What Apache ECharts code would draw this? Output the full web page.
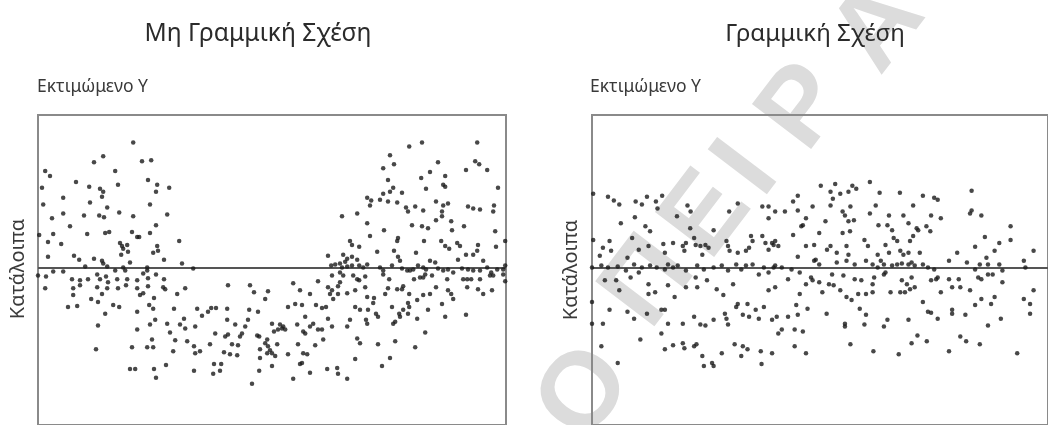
<!DOCTYPE html>
<html>
<head>
<meta charset="utf-8">
<script src="https://cdn.jsdelivr.net/npm/echarts@6/dist/echarts.min.js"></script>
<style>
  html, body { margin: 0; padding: 0; background: #ffffff; }
  #chart { width: 1048px; height: 425px; }
</style>
</head>
<body>
<div id="chart"></div>
<script>
// Residuals (y) against fitted values (x) for two regression models.

const panelTitles = ['Μη Γραμμική Σχέση', 'Γραμμική Σχέση'];
const fittedLabel = 'Εκτιμώμενο Υ';
const residualLabel = 'Κατάλοιπα';

// Model with a non-linear pattern: residuals dip in the middle of the range.
const nonLinearPoints = [
  [23.8,12.7],[16.3,11.3],[14,10.7],[26,10.8],[28.3,10.9],[1.8,9.8],[3,9.3],[19.3,9.8],[9.5,8.7],[12.8,8.2],
  [15.5,8],[16.3,7.7],[20,8.4],[27.5,8.9],[29.8,8.4],[29.5,7.7],[32.8,8.1],[1,8.1],[1.3,6.4],[6.3,7.1],
  [16,7.2],[13,6.6],[17.3,6.1],[6.3,5.5],[3.5,5],[11.5,5.3],[15.3,5.3],[16.5,5.1],[20.3,5.6],[23.8,5.2],
  [28,6.4],[32.3,5.4],[8,4.2],[29.5,4.3],[0.3,3.3],[3.8,3.4],[12.3,3.4],[16.8,3.5],[17.8,3.6],[23.5,3.6],
  [24.8,3.1],[25.3,3.1],[28,3.5],[2.5,2.6],[5.8,2.4],[20.5,2.5],[21,2.2],[21.3,1.9],[22.3,2.3],[22.5,1.6],
  [29.8,2.2],[30,1.7],[28.8,1.5],[35.3,2.7],[20.8,1.3],[2.5,1.1],[9,1.2],[10.3,0.8],[14,0.9],[16,0.7],
  [16.3,0.4],[23,0.5],[31.5,0.8],[36,0.4],[11.8,0.1],[17.3,0.1],[38.8,-0.1],[27.3,0],[21.3,0],[21.8,-0.3],
  [0,-0.8],[2,-0.9],[3.8,-0.4],[6.3,-0.4],[8.5,-1.2],[10.5,-1.3],[12.5,-1.2],[14.8,-0.7],[15.5,-1.2],[17,-0.9],
  [17.5,-1.5],[19.3,-0.3],[19.8,-1.2],[22.3,-1.2],[24.8,-1.3],[26.3,-0.6],[27.3,-0.3],[27.5,-1.1],[29.5,-0.7],[31.5,-1.2],
  [1.8,-2.1],[8.8,-2.1],[10.5,-1.8],[14.8,-2],[17.3,-2.1],[20,-2.1],[22,-1.8],[24.8,-2.1],[27.5,-1.9],[31.3,-2],
  [31.8,-2.2],[36.8,-2.1],[8.8,-2.8],[13.3,-3.2],[15,-3.5],[16,-2.7],[25.5,-2.8],[26.3,-2.6],[29,-3.1],[34.8,-2.7],
  [7.5,-4],[9.8,-3.9],[18.8,-3.8],[20.3,-4],[24.8,-4.5],[27.8,-3.8],[28.8,-4.2],[34,-4.2],[39.8,-4.2],[43.3,-4.1],
  [44.5,-4.1],[47.3,-4.2],[16.8,-4.7],[29.3,-5.3],[28,-5.8],[41,-4.9],[42.5,-4.5],[36.5,-5.2],[47.5,-1.8],[53,-1.8],
  [54,-2.5],[57.5,-2.4],[56.8,-3.2],[52.8,-4.3],[55,-4.5],[52.5,-5.3],[47.3,-5.3],[15,-5.9],[24.8,-6.3],[32.3,-5.7],
  [35.5,-5.8],[36.8,-6.2],[39.3,-6],[49.3,-5.8],[51.8,-6],[58.5,-5.7],[33,-6.6],[44.3,-6.7],[46.8,-7],[47.5,-6.8],
  [50.5,-7],[51,-6.7],[54.8,-6.9],[55.3,-7],[59,-6.5],[60,-6.3],[28.5,-7.3],[34.3,-7.4],[37.3,-7.5],[43,-7.8],
  [48.5,-7.8],[50,-7.9],[57.3,-7.3],[57.5,-8],[14.5,-8.3],[23.5,-8.1],[27.3,-8.1],[28.8,-8.1],[39,-8],[39.3,-8.7],
  [40.5,-8.5],[46.5,-8.6],[48,-8.8],[49.8,-8.9],[55.5,-8.3],[57.3,-8.7],[58,-8.4],[33.8,-8.5],[55.5,-9.2],[58.5,-10],
  [23,-10.3],[24.3,-10.3],[29,-10.3],[32,-9.9],[39,-10.5],[44,-9.8],[45.8,-9.8],[43.8,-10.8],[45.5,-10.5],[29.5,-11.2],
  [55.3,-10.5],[53.5,-11.8],
  [109.8,12.7],[96,12.7],[92.8,12.3],[88,11.4],[109.3,10.8],[110.3,10.5],[112.3,9.9],[86.3,10.1],[89,10.5],[100,10.7],
  [98,9.7],[107,9.9],[95.8,9.1],[101.8,9.3],[87.5,8.9],[101.3,8.4],[101.8,8.2],[97,8],[115,8.1],[88.8,8.1],
  [88,7.7],[86.3,7.5],[91,7.6],[82.3,7.1],[83.3,6.8],[83,6.3],[85.5,6.9],[87.5,6.7],[89.8,6.6],[92,6.1],
  [92.5,5.7],[94.3,6.2],[96.3,5.8],[99.5,6.7],[101.3,6.3],[101,5.7],[102.5,6.5],[107.5,6.2],[108.8,6],[110.5,5.9],
  [114,6.3],[113.8,5.7],[76,5.2],[79.8,5.5],[82.3,4.5],[86.5,3.8],[93.5,4.3],[96,4.2],[97.5,4],[99.5,4.8],
  [103.3,4.7],[103.5,3.8],[101,5.2],[106.5,4.2],[114.3,3.7],[83,3.2],[90,3],[89.8,2.7],[78,2.7],[78.5,2.3],
  [96.5,2.7],[100.8,2.7],[101.8,2.2],[104.8,2.5],[105.5,2.2],[110,2.3],[109.8,1.7],[108.8,1.3],[114.5,2.1],[116.8,2.7],
  [84.8,1.6],[89,1.7],[90,1.1],[90.5,0.7],[80.3,2.1],[94.5,1.5],[102.8,1.9],[107,1.3],[111.3,0.7],[105,0.8],
  [98,0.7],[99.3,0.5],[72.5,1.2],[76.3,1.3],[77.3,0.9],[78.5,1.1],[79.8,0.8],[75.5,0.4],[76.8,0.6],[73.3,0.2],
  [74.3,0.3],[76,0],[77.3,0.1],[78.5,0.2],[80.3,0.2],[81.3,0],[82.3,0.3],[85.5,0],[86.3,-0.3],[88.5,0.2],
  [91,-0.1],[92.3,-0.3],[93,-0.3],[93.8,-0.2],[95,0.2],[96.3,0],[97,-0.2],[100,-0.1],[101.3,-0.3],[102.5,-0.2],
  [103.8,-0.5],[106,-0.1],[107.5,-0.2],[108.8,-0.3],[110.5,-0.3],[112.3,0],[113.3,-0.5],[114.8,-0.2],[116.3,-0.2],[116.8,0.2],
  [116.3,-0.7],[116.8,-1.4],[73.5,-0.8],[75.5,-0.5],[76.3,-0.8],[78.8,-0.8],[79.8,-1.2],[80.3,-1.3],[81.8,-0.9],[86.3,-0.7],
  [87.8,-1.2],[94,-1.2],[95.5,-1],[96.3,-1],[96.8,-0.7],[98.5,-0.8],[102.3,-1.2],[106.3,-1.2],[107.3,-1.2],[108.3,-1.2],
  [110.5,-1.2],[113,-0.8],[113.8,-0.8],[63.8,-1.6],[65.5,-2.3],[68,-2.7],[70,-1.4],[72.5,-2],[73.5,-2.3],[73,-2.7],
  [75.5,-1.5],[75,-1.9],[75,-2.7],[73.8,-3.2],[77.3,-2.6],[79.3,-2.3],[82.3,-3],[81.8,-2],[84,-3.1],[83.8,-3.6],
  [86.8,-2.7],[87.5,-2.1],[89.8,-2.2],[91,-2.2],[91.3,-1.9],[92.8,-2.7],[92.5,-3.6],[94.8,-3.3],[96.3,-2.8],[98,-2.7],
  [99.5,-2],[102.5,-2.3],[103.3,-2.7],[103.8,-3.2],[101,-3.7],[107.3,-2],[110,-2.2],[111.3,-2.7],[113.5,-2.3],[62.5,-4],
  [64.3,-3.7],[66,-3.8],[69.5,-3.8],[71,-4.1],[72,-4],[72.5,-5.2],[79.3,-4],[80.5,-4.3],[82.5,-4.3],[84.5,-4.7],
  [85,-5],[88.5,-4],[90.3,-4.7],[90.5,-5],[91.3,-4.3],[92.8,-4],[92.5,-4.7],[94.8,-5.2],[97.5,-4.3],[101.8,-5],
  [107,-4.8],[60.5,-5.8],[61,-6.2],[61.3,-6],[61.8,-6.3],[64.8,-5.8],[66.3,-6.5],[66.8,-6.7],[68,-6],[68.8,-5.7],
  [70,-6.3],[71,-6.3],[71.3,-7.3],[66.8,-5],[73.5,-6],[77.3,-6],[78,-5.3],[79.8,-7.2],[80.5,-7.7],[82,-5.3],
  [82.3,-5.7],[88.8,-5.7],[89.3,-5.5],[96.8,-6.6],[56.8,-7.7],[58.5,-8.7],[59.8,-7.8],[59.3,-9],[62.5,-8.8],[65,-7.8],
  [66.3,-8.7],[67.3,-8.8],[69.3,-7.9],[85,-7.8],[89.3,-7.5],[94.3,-8.1],[65.5,-9.8],[66,-9.7],[68,-10.7],[63.8,-11.3],
  [72.3,-10.3],[74.8,-10.2],[75,-10.8],[77.3,-11.3],[79.3,-9.3],[86,-10],[88,-9.2]
];

// Model with a linear relationship: residuals scattered evenly around zero.
const linearPoints = [
  [0.3,7.5],[4.1,7.2],[5.6,6.8],[7,6.4],[11.2,6.7],[12.8,6.4],[14.1,7.2],[16.4,6.7],[16.8,6],[18,7.3],
  [11,5.1],[7.4,4.5],[13.7,4.2],[14.9,3.7],[21.8,5.2],[24.5,6.3],[25.3,5.7],[25.2,4],[35.2,5.7],[37.4,6.5],
  [31.2,3.8],[43.7,6.2],[45.3,6.2],[45.3,5],[0.3,2.8],[2.8,2],[2,1.2],[4.5,2.7],[4.9,1.7],[10.3,3],
  [12,1.8],[9.1,1],[14.5,2.2],[18.3,2.4],[18.7,1.5],[20.8,2.5],[23.3,2.2],[24.1,2.5],[23.7,1.7],[26.2,3],
  [26.6,2.3],[27.8,2.2],[29.1,2.3],[29.9,2],[28.3,1.3],[34.5,2.7],[34.9,2.2],[35.3,1.7],[37.4,1.5],[39.5,1.7],
  [40.3,2],[40.8,3.2],[41.2,2.7],[43.7,3.2],[44.5,2.5],[45.3,1.8],[46.2,2.5],[46.6,2.3],
  [0,0],[2.4,0.2],[4.1,0],[6.6,0.1],[8.7,-0.3],[10.8,0.3],[12.8,0],[14.9,0.2],[16.6,0],[18.7,-0.2],
  [19.5,0.3],[20.8,0],[22,0.2],[24.1,-0.3],[27,0.2],[28.7,-0.2],[31.2,0],[33.3,0.2],[34.9,-0.3],[37,0.3],
  [38.3,-0.2],[39.5,0.2],[41.2,0.3],[42.8,-0.7],[44.1,0],[45.3,-0.5],[46.6,0],
  [3.3,-1.3],[6.2,-1.3],[7,-2.3],[9.9,-1],[12,-0.5],[14.5,-1.7],[16.2,-2.5],[19.5,-1.8],[21.2,-3],[24.1,-2],
  [26.6,-1],[27,-2],[29.5,-1.3],[32,-2.2],[33.7,-2.8],[36.2,-1.7],[37.4,-3.7],[39.9,-3.7],[40.3,-5],[42,-4.3],
  [42.8,-5.2],[44.1,-4],[45.3,-2.3],[46.2,-5.3],
  [0,-3.5],[2.8,-5.7],[4.5,-4.3],[9.1,-4.5],[10.8,-5.2],[14.1,-4.7],[14.5,-2.7],[17.8,-4.3],[18.7,-4.3],[19.5,-5.7],
  [23.3,-5.7],[26.2,-5],[27.8,-5.8],[29.1,-5.9],[31.2,-5.3],[34.1,-4.7],[34.5,-5.2],[34.9,-5.8],[37,-4],[38.7,-4.8],
  [0,-5.7],[12.4,-7.3],[17.8,-6.7],[18.7,-8.3],[20.8,-7.9],[23.3,-7.7],[23.7,-8.2],[26.2,-8],[26.8,-7.8],[28.3,-9],
  [28.7,-10],[30.8,-9.7],[31.2,-10],[33.3,-8.7],[36.6,-7.8],[38.3,-9],[38.7,-8],[39.9,-8.3],[43.3,-8.5],[43.5,-9.8],
  [46.2,-8.7],[2.4,-8],[6.6,-9.7],
  [47,5.7],[49.5,5.7],[51.6,6.7],[47,2.7],[47.8,2.2],[51.6,3.3],[47,0.2],[48.7,0],[51.2,-0.2],[47,-2],
  [50.3,-1.2],[47.4,-5],[48.7,-6.3],[50.3,-5],[47.8,-6.7],
  [58.7,8.3],[62.4,8.5],[66.8,8.3],[67.8,8],[71.3,8.7],[52.8,7.3],[61.2,7.7],[63.7,7.5],[65.8,7.7],[73.8,7.6],
  [79,7.6],[84.9,7.3],[87.8,7.1],[88.7,6.9],[97.4,7.8],[56.6,6.2],[52.8,5.8],[61.8,7],[61.2,6.3],[64.3,5.7],
  [64.9,5.3],[66.3,6.2],[67.2,4.8],[65.8,4.7],[71.3,5.5],[72.8,6.3],[76.2,5.3],[75.8,4.3],[77,3.8],[79.9,5.3],
  [81.2,4.5],[82.4,6.3],[87,5.3],[85.8,4.2],[89.5,5],[83.3,4],[97.4,5.8],[97,5.5],[99.9,5.3],[54.1,4.3],
  [53.7,4.2],[54.9,5],[59.9,4.7],[58.3,3.5],[64.3,3.5],[66.2,3.7],[73.5,4.3],[86.8,3.7],[107.4,4.2],[107.4,2.8],
  [104.5,2.5],[103.3,1.7],[100.8,3.1],[98.3,2.1],[101.2,1],[113.3,1.7],[52.8,1.1],[54.9,2.2],[57,2.3],[60.3,1.8],
  [61.2,2.2],[62.8,1.5],[65.8,1.3],[65.3,2.2],[69.9,2.8],[70.8,2.2],[73.3,1.3],[74.1,0.7],[75.3,2.3],[76.2,1.5],
  [77.4,3],[78.3,2.7],[79.1,1.7],[79.9,1.3],[81.2,1.5],[81.6,2.7],[82.4,3.2],[83.7,3.8],[84.1,1.5],[84.9,0.3],
  [57,0.7],[57.4,0.8],[58.3,0.3],[62.8,0.5],[65.3,0.7],[67.4,0.3],[70.3,0.7],[72,0.3],[73.3,0],[74.9,0.3],
  [77,0.2],[78.3,0.3],[79.5,0.4],[81.2,0.3],[82,0.5],[82.8,0.2],[86.2,0],[87.8,-0.2],[91.6,0.7],[93.7,1.5],
  [96.2,0.5],[98.3,-0.2],[99.5,0.3],[101.6,0.3],[104.5,0.3],[105.3,-0.3],[110.8,0.7],[111.2,0],
  [53.3,-0.5],[56.2,-1],[56.6,-1.3],[54.9,-1.7],[58.3,-1.5],[60.8,-1.7],[62,-1.8],[61.6,-0.7],[63.7,-2.3],[64.5,-0.8],
  [67.4,-1.2],[69.1,-1.3],[72.4,-1],[72,-1.7],[74.9,-0.7],[75.3,-0.5],[79.5,-1.3],[80.8,-1.7],[81.6,-2.2],[82.8,-2],
  [82,-1],[79.1,-2.5],[80.3,-2.5],[87,-1.3],[88.3,-1.2],[88.7,-1],[91.6,-1.2],[94.1,-1.2],[94.5,-2],[97,-2.3],
  [99.1,-1],[99.9,-1.2],[101.6,-0.7],[102.8,-0.7],[105.3,-1.5],
  [53.3,-2.7],[59.1,-2.5],[65.3,-3],[66.6,-3.3],[68.3,-2.7],[70.3,-2.7],[72,-2.5],[76.6,-2.5],[84.9,-3.5],[89.5,-2.5],
  [92.4,-2],[98.3,-3.8],[99.9,-3.2],[102.4,-3.7],[103.3,-3],[110.8,-3.2],[112.4,-3.7],[113.3,-2.3],
  [52.4,-3.8],[52.8,-4.8],[55.3,-4.2],[60.2,-4.7],[64.9,-5.7],[64.9,-6],[69.9,-5.8],[70.3,-4.8],[68.7,-4.2],[74.9,-6],
  [75.8,-5.3],[81.2,-5.3],[86.2,-4.5],[87,-4.6],[88.7,-5.2],[92.4,-4.3],[92.4,-4.7],[95.8,-4.8],[101.6,-5.9],[104.9,-5.2],
  [112.4,-4.7],[52,-6.3],[54.1,-6.5],[52,-8],[54.9,-8.7],[66.3,-7.8],[72.2,-8.5],[78.7,-8.8],[82,-7.7],[83.5,-6.9],
  [85.9,-7.5],[91.6,-8.5],[94.5,-7],[96,-7.5],[99.5,-7.8],[109.1,-8.7]
];

const watermarkLetters = ['Ο', 'Π', 'Ε', 'Ι', 'Ρ', 'Α'];

// Shared axis ranges (no ticks are drawn; both panels use the same scale).
const fittedRange = [0, 117];
const residualRange = [-16, 15.5];

const chart = echarts.init(document.getElementById('chart'), null, { renderer: 'canvas' });

const frameColor = '#8a8a8a';
const textColor = '#3a3a3a';
const uiFont = '"Noto Sans", "DejaVu Sans", sans-serif';

const gridLefts = [38, 592];
const grids = gridLefts.map(l => ({
  left: l, top: 115, width: 468, height: 315,
  show: true, borderColor: frameColor, borderWidth: 2, backgroundColor: 'transparent'
}));

const xAxes = grids.map((g, i) => ({
  type: 'value', gridIndex: i, min: fittedRange[0], max: fittedRange[1], show: false
}));
const yAxes = grids.map((g, i) => ({
  type: 'value', gridIndex: i, min: residualRange[0], max: residualRange[1], show: false
}));

function scatter(points, i) {
  return {
    type: 'scatter', xAxisIndex: i, yAxisIndex: i, data: points,
    symbol: 'circle', symbolSize: 4.5, silent: true,
    itemStyle: { color: '#1a1a1a' },
    markLine: {
      silent: true, symbol: 'none', label: { show: false },
      lineStyle: { color: '#555555', width: 2, type: 'solid' },
      data: [{ yAxis: 0 }]
    },
    z: 5
  };
}

// Watermark letters placed along a diagonal.
const wmPos = [[586, 394], [650, 283], [708, 216], [748, 170], [805, 108], [880, 28]];
const watermark = watermarkLetters.map((ch, k) => ({
  type: 'text', x: wmPos[k][0], y: wmPos[k][1], rotation: 0.92, z: -10, silent: true,
  style: {
    text: ch, fill: '#dcdcdc', align: 'center', verticalAlign: 'middle',
    font: 'bold 108px "Liberation Sans", Arial, sans-serif'
  }
}));

const labels = [
  { type: 'text', x: 258, y: 34, style: { text: panelTitles[0], fill: '#2b2b2b', align: 'center', verticalAlign: 'middle', font: '24.5px ' + uiFont } },
  { type: 'text', x: 815, y: 34, style: { text: panelTitles[1], fill: '#2b2b2b', align: 'center', verticalAlign: 'middle', font: '24px ' + uiFont } },
  { type: 'text', x: 37, y: 87, style: { text: fittedLabel, fill: textColor, align: 'left', verticalAlign: 'middle', font: '17.5px ' + uiFont } },
  { type: 'text', x: 590, y: 87, style: { text: fittedLabel, fill: textColor, align: 'left', verticalAlign: 'middle', font: '17.5px ' + uiFont } },
  { type: 'text', x: 18, y: 269, rotation: Math.PI / 2, style: { text: residualLabel, fill: textColor, align: 'center', verticalAlign: 'middle', font: '20px ' + uiFont } },
  { type: 'text', x: 571, y: 270, rotation: Math.PI / 2, style: { text: residualLabel, fill: textColor, align: 'center', verticalAlign: 'middle', font: '20px ' + uiFont } }
].map(e => Object.assign(e, { z: 20, silent: true }));

chart.setOption({
  backgroundColor: '#ffffff',
  animation: false,
  grid: grids,
  xAxis: xAxes,
  yAxis: yAxes,
  series: [scatter(nonLinearPoints, 0), scatter(linearPoints, 1)],
  graphic: watermark.concat(labels)
});
</script>
</body>
</html>
